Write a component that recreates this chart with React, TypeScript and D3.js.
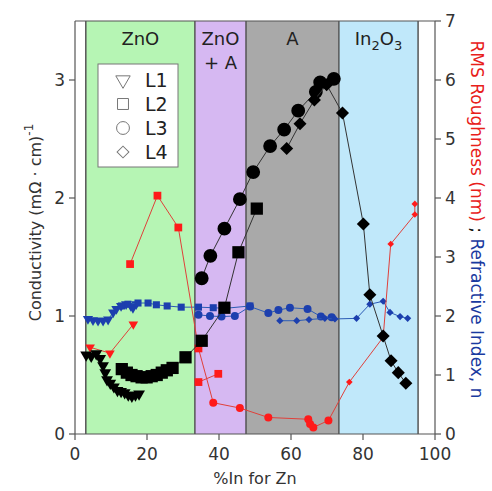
import React from "react";
import * as d3 from "d3";

// ---- data ----
const regionNames = ["ZnO", "ZnO + A", "A", "In2O3"];
const regionBounds = [3.0, 33.3, 47.5, 73.3, 95.3];
const regionColors = ["#b6f5b4", "#d6b8f2", "#a9a9a9", "#c0e8fa"];

const xTicks = [0, 20, 40, 60, 80, 100];
const yLeftTicks = [0, 1, 2, 3];
const yRightTicks = [0, 1, 2, 3, 4, 5, 6, 7];

const legendLabels = ["L1", "L2", "L3", "L4"];

// Conductivity (left axis)
const condL1: [number, number][] = [
  [3.1, 0.67], [4.5, 0.66], [5.9, 0.68], [7.0, 0.64], [7.8, 0.58], [8.4, 0.52],
  [8.9, 0.46], [9.8, 0.43], [10.8, 0.4], [11.8, 0.37], [12.8, 0.36], [13.8, 0.35],
  [14.8, 0.33], [15.8, 0.32], [16.8, 0.33], [17.8, 0.34],
];
const condL2: [number, number][] = [
  [13.0, 0.55], [14.4, 0.52], [15.7, 0.5], [17.1, 0.49], [18.5, 0.48], [19.9, 0.48],
  [21.3, 0.49], [22.7, 0.5], [24.1, 0.52], [25.5, 0.54], [27.1, 0.56], [30.7, 0.65],
  [35.2, 0.79], [41.5, 1.07], [45.4, 1.54], [50.5, 1.91],
];
const condL3: [number, number][] = [
  [35.2, 1.32], [37.6, 1.51], [41.5, 1.74], [45.8, 1.99], [49.5, 2.22], [54.2, 2.44],
  [58.1, 2.58], [62.0, 2.74], [66.9, 2.9], [68.1, 2.98], [71.9, 3.01],
];
const condL4: [number, number][] = [
  [58.8, 2.42], [62.5, 2.63], [66.5, 2.83], [69.9, 2.96], [74.3, 2.72], [80.1, 1.78],
  [81.9, 1.18], [85.6, 0.83], [87.8, 0.62], [89.8, 0.52], [91.9, 0.43],
];

// RMS roughness (right axis)
const roughL1: [number, number][] = [[4.2, 1.47], [9.7, 1.37], [16.2, 1.86]];
const roughL2: [number, number][] = [[15.3, 2.88], [22.9, 4.04], [28.7, 3.5], [34.3, 1.45]];
const roughL2b: [number, number][] = [[34.3, 0.88], [39.8, 1.02]];
const roughL3: [number, number][] = [
  [38.4, 0.53], [45.8, 0.44], [53.7, 0.28], [64.8, 0.25], [65.3, 0.17], [66.2, 0.11], [70.4, 0.23],
];
const roughL4: [number, number][] = [
  [76.2, 0.88], [85.6, 1.64], [87.7, 3.22], [94.4, 3.72], [94.4, 3.9],
];

// Refractive index (right axis)
const nL1: [number, number][] = [
  [3.6, 1.95], [5.0, 1.93], [6.4, 1.92], [7.8, 1.92], [9.2, 1.94], [10.6, 2.06],
  [11.5, 2.12], [12.8, 2.17], [14.2, 2.2], [15.5, 2.17], [16.1, 2.14], [17.0, 2.2],
];
const nL2: [number, number][] = [
  [12.9, 2.17], [14.7, 2.2], [17.5, 2.22], [20.3, 2.22], [22.6, 2.19], [25.6, 2.17],
  [29.5, 2.15], [34.3, 2.15], [38.4, 2.14], [41.7, 2.13], [48.6, 2.17],
];
const nL3: [number, number][] = [
  [34.3, 2.02], [37.5, 2.0], [40.7, 1.99], [44.4, 2.0], [48.6, 2.16], [53.7, 2.05],
  [56.5, 2.1], [59.7, 2.14], [64.6, 2.12], [68.3, 1.99], [71.3, 1.98],
];
const nL4: [number, number][] = [
  [56.9, 1.92], [61.6, 1.92], [65.0, 1.94], [69.4, 1.96], [72.2, 1.95], [78.2, 1.96],
  [81.9, 2.2], [85.6, 2.25], [87.5, 2.06], [90.3, 1.99], [92.4, 1.96],
];

// ---- layout ----
const W = 492, H = 491;
const x = d3.scaleLinear().domain([0, 100]).range([75, 435]);
const yL = d3.scaleLinear().domain([0, 3.5]).range([434, 21]);
const yR = d3.scaleLinear().domain([0, 7]).range([434, 21]);

type Shape = "tri" | "sq" | "circ" | "dia";
const symPath = (s: Shape, size: number) => {
  const t = s === "tri" ? d3.symbolTriangle : s === "circ" ? d3.symbolCircle : d3.symbolSquare;
  return d3.symbol().type(t).size(size)() as string;
};
const rot = (s: Shape) => (s === "tri" ? " rotate(180)" : s === "dia" ? " rotate(45)" : "");

const FONT = "DejaVu Sans, Verdana, sans-serif";
const AX = "#555";

function Series({ data, y, shape, size, fill, stroke, lineColor, lineWidth = 1 }: any) {
  const line = d3.line<[number, number]>().x((d) => x(d[0])).y((d) => y(d[1]));
  const p = symPath(shape, size);
  return (
    <g>
      {lineColor && <path d={line(data) as string} fill="none" stroke={lineColor} strokeWidth={lineWidth} />}
      {data.map((d: [number, number], i: number) => (
        <path key={i} d={p} transform={`translate(${x(d[0])},${y(d[1])})${rot(shape)}`} fill={fill} stroke={stroke || "none"} strokeWidth={0.8} />
      ))}
    </g>
  );
}

export default function App() {
  const lineGen = d3.line<[number, number]>().x((d) => x(d[0])).y((d) => yR(d[1]));
  const redMain = [...roughL2, ...roughL3, ...roughL4];
  const RED = "#ff1a1a";
  const REDLINE = "#e0403a";
  const BLUE = "#1c3fae";
  const BLUELINE = "#2b5bb5";
  const BLK = "#000";
  const BLKLINE = "#333";
  const top = yL(3.5), bottom = yL(0);
  const TS = 17;

  return (
    <svg width={W} height={H} style={{ position: "absolute", left: 0, top: 0, background: "#fff" }} fontFamily={FONT}>
      {/* regions */}
      {regionNames.map((n, i) => (
        <rect key={n} x={x(regionBounds[i])} y={top} width={x(regionBounds[i + 1]) - x(regionBounds[i])} height={bottom - top} fill={regionColors[i]} />
      ))}
      {regionBounds.map((b, i) => (
        <line key={i} x1={x(b)} x2={x(b)} y1={top} y2={bottom} stroke={AX} strokeWidth={1.5} />
      ))}
      {/* region labels */}
      <text x={(x(regionBounds[0]) + x(regionBounds[1])) / 2} y={45} textAnchor="middle" fontSize={18} fill="#222">ZnO</text>
      <text x={(x(regionBounds[1]) + x(regionBounds[2])) / 2} y={45} textAnchor="middle" fontSize={18} fill="#222">ZnO</text>
      <text x={(x(regionBounds[1]) + x(regionBounds[2])) / 2} y={69} textAnchor="middle" fontSize={18} fill="#222">+ A</text>
      <text x={(x(regionBounds[2]) + x(regionBounds[3])) / 2} y={45} textAnchor="middle" fontSize={18} fill="#222">A</text>
      <text x={(x(regionBounds[3]) + x(regionBounds[4])) / 2} y={45} textAnchor="middle" fontSize={18} fill="#222">
        In<tspan dy={5} fontSize={13}>2</tspan><tspan dy={-5}>O</tspan><tspan dy={5} fontSize={13}>3</tspan>
      </text>

      {/* frame & axes */}
      <line x1={x(0)} x2={x(100)} y1={top} y2={top} stroke={AX} strokeWidth={1.2} />
      <line x1={x(0)} x2={x(100)} y1={bottom} y2={bottom} stroke={AX} strokeWidth={1.2} />
      <line x1={x(0)} x2={x(0)} y1={top} y2={bottom} stroke={AX} strokeWidth={1.2} />
      <line x1={x(100)} x2={x(100)} y1={top} y2={bottom} stroke={AX} strokeWidth={1.2} />
      {xTicks.map((t) => (
        <g key={t}>
          <line x1={x(t)} x2={x(t)} y1={bottom} y2={bottom + 6} stroke={AX} strokeWidth={1.2} />
          <text x={x(t)} y={bottom + 26} textAnchor="middle" fontSize={TS} fill="#333">{t}</text>
        </g>
      ))}
      {yLeftTicks.map((t) => (
        <g key={t}>
          <line x1={x(0) - 6} x2={x(0)} y1={yL(t)} y2={yL(t)} stroke={AX} strokeWidth={1.2} />
          <text x={x(0) - 10} y={yL(t) + 6} textAnchor="end" fontSize={TS} fill="#333">{t}</text>
        </g>
      ))}
      {yRightTicks.map((t) => (
        <g key={t}>
          <line x1={x(100)} x2={x(100) + 6} y1={yR(t)} y2={yR(t)} stroke={AX} strokeWidth={1.2} />
          <text x={x(100) + 10} y={yR(t) + 6} textAnchor="start" fontSize={TS} fill="#333">{t}</text>
        </g>
      ))}
      <text x={255} y={484} textAnchor="middle" fontSize={16} fill="#333">%In for Zn</text>
      <text transform={`translate(41,${(top + bottom) / 2 - 5}) rotate(-90)`} textAnchor="middle" fontSize={16} fill="#333">
        Conductivity (mΩ · cm)<tspan dy={-8} fontSize={12}>-1</tspan>
      </text>
      <text transform={`translate(471,${(top + bottom) / 2 - 8}) rotate(90)`} textAnchor="middle" fontSize={17}>
        <tspan fill="#e8201a">RMS Roughness (nm)</tspan><tspan fill="#111"> ; </tspan><tspan fill="#1a3aa0">Refractive Index, n</tspan>
      </text>

      {/* legend */}
      <rect x={98} y={64} width={80} height={103} fill="#fff" stroke="#777" strokeWidth={1} />
      {legendLabels.map((l, i) => {
        const s: Shape = (["tri", "sq", "circ", "dia"] as Shape[])[i];
        const yy = 80 + i * 24;
        return (
          <g key={l}>
            <path d={symPath(s, s === "circ" ? 130 : s === "tri" ? 90 : s === "dia" ? 70 : 120)} transform={`translate(123,${yy})${rot(s)}`} fill="none" stroke="#777" strokeWidth={1} />
            <text x={145} y={yy + 7} fontSize={19} fill="#222">{l}</text>
          </g>
        );
      })}

      {/* refractive index (blue) */}
      <Series data={nL1} y={yR} shape="tri" size={45} fill={BLUE} lineColor={BLUELINE} />
      <Series data={nL2} y={yR} shape="sq" size={50} fill={BLUE} lineColor={BLUELINE} />
      <Series data={nL3} y={yR} shape="circ" size={50} fill={BLUE} lineColor={BLUELINE} />
      <Series data={nL4} y={yR} shape="dia" size={26} fill={BLUE} lineColor={BLUELINE} />

      {/* roughness (red) */}
      <path d={lineGen(redMain as [number, number][]) as string} fill="none" stroke={REDLINE} strokeWidth={1} />
      <Series data={roughL1} y={yR} shape="tri" size={40} fill={RED} lineColor={REDLINE} />
      <Series data={roughL2} y={yR} shape="sq" size={60} fill={RED} />
      <Series data={roughL2b} y={yR} shape="sq" size={60} fill={RED} lineColor={REDLINE} />
      <Series data={roughL3} y={yR} shape="circ" size={50} fill={RED} />
      <Series data={roughL4} y={yR} shape="dia" size={22} fill={RED} />

      {/* conductivity (black) */}
      <Series data={condL1} y={yL} shape="tri" size={60} fill={BLK} lineColor={BLKLINE} />
      <Series data={condL2} y={yL} shape="sq" size={150} fill={BLK} lineColor={BLKLINE} />
      <Series data={condL3} y={yL} shape="circ" size={150} fill={BLK} lineColor={BLKLINE} />
      <Series data={condL4} y={yL} shape="dia" size={85} fill={BLK} lineColor={BLKLINE} />
    </svg>
  );
}
